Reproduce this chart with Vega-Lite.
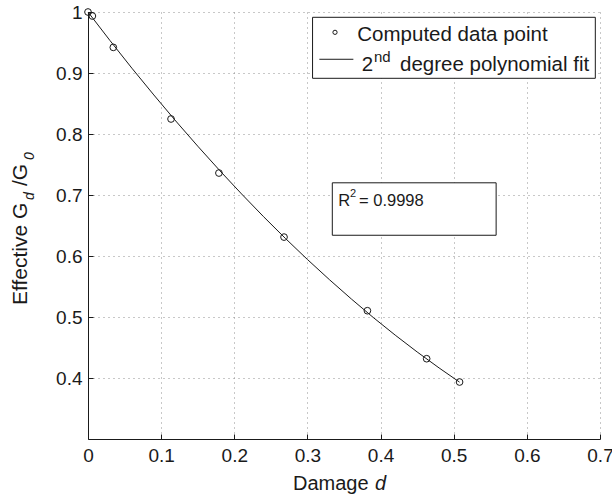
{
  "$schema": "https://vega.github.io/schema/vega-lite/v6.json",
  "width": 512,
  "height": 427,
  "autosize": {"type": "none"},
  "padding": {"left": 88, "top": 12, "right": 12, "bottom": 64},
  "background": "white",
  "config": {
    "font": "Liberation Sans",
    "view": {"stroke": null},
    "axis": {
      "labelFont": "Liberation Sans",
      "labelFontSize": 19,
      "labelColor": "#1a1a1a",
      "domainColor": "#1a1a1a",
      "tickColor": "#1a1a1a",
      "tickSize": -5,
      "gridColor": "#909090",
      "gridDash": [1, 4],
      "gridWidth": 1,
      "labelFlush": false,
      "labelOverlap": false,
      "title": null
    }
  },
  "datasets": {
    "points": [
      {"d": 0.0, "g": 1.0},
      {"d": 0.006, "g": 0.9934},
      {"d": 0.0346, "g": 0.942},
      {"d": 0.1135, "g": 0.8246},
      {"d": 0.179, "g": 0.736},
      {"d": 0.268, "g": 0.631},
      {"d": 0.382, "g": 0.5103},
      {"d": 0.463, "g": 0.4316},
      {"d": 0.508, "g": 0.3934}
    ],
    "fit": [
      {"d": 0.0, "g": 1.0},
      {"d": 0.03, "g": 0.9533},
      {"d": 0.06, "g": 0.9079},
      {"d": 0.09, "g": 0.864},
      {"d": 0.12, "g": 0.8213},
      {"d": 0.15, "g": 0.7801},
      {"d": 0.18, "g": 0.7402},
      {"d": 0.21, "g": 0.7017},
      {"d": 0.24, "g": 0.6645},
      {"d": 0.27, "g": 0.6287},
      {"d": 0.3, "g": 0.5943},
      {"d": 0.33, "g": 0.5613},
      {"d": 0.36, "g": 0.5296},
      {"d": 0.39, "g": 0.4992},
      {"d": 0.42, "g": 0.4703},
      {"d": 0.45, "g": 0.4427},
      {"d": 0.48, "g": 0.4165},
      {"d": 0.508, "g": 0.3932}
    ],
    "one": [{}]
  },
  "layer": [
    {
      "data": {"name": "fit"},
      "mark": {"type": "line", "color": "#1a1a1a", "strokeWidth": 1},
      "encoding": {
        "x": {"field": "d", "type": "quantitative",
          "scale": {"domain": [0, 0.7], "nice": false, "zero": false},
          "axis": {"values": [0, 0.1, 0.2, 0.3, 0.4, 0.5, 0.6, 0.7], "format": "~g", "labelPadding": 12, "labelBaseline": "top"}},
        "y": {"field": "g", "type": "quantitative",
          "scale": {"domain": [0.3, 1], "nice": false, "zero": false},
          "axis": {"values": [0.4, 0.5, 0.6, 0.7, 0.8, 0.9, 1.0], "format": "~g", "labelPadding": 11}}
      }
    },
    {
      "data": {"name": "points"},
      "mark": {"type": "point", "shape": "circle", "filled": false, "stroke": "#1a1a1a", "strokeWidth": 1, "size": 45, "opacity": 1},
      "encoding": {
        "x": {"field": "d", "type": "quantitative"},
        "y": {"field": "g", "type": "quantitative"}
      }
    },
    {
      "data": {"name": "one"},
      "mark": {"type": "rect", "fill": "white", "stroke": "#1a1a1a", "strokeWidth": 1},
      "encoding": {
        "x": {"datum": 0.307, "type": "quantitative"},
        "x2": {"datum": 0.6936},
        "y": {"datum": 0.9913, "type": "quantitative"},
        "y2": {"datum": 0.8913}
      }
    },
    {
      "data": {"name": "one"},
      "mark": {"type": "point", "shape": "circle", "filled": false, "stroke": "#1a1a1a", "strokeWidth": 1, "size": 18, "opacity": 1},
      "encoding": {
        "x": {"datum": 0.3377, "type": "quantitative"},
        "y": {"datum": 0.9667, "type": "quantitative"}
      }
    },
    {
      "data": {"name": "one"},
      "mark": {"type": "rule", "color": "#1a1a1a", "strokeWidth": 1},
      "encoding": {
        "x": {"datum": 0.3163, "type": "quantitative"},
        "x2": {"datum": 0.3628},
        "y": {"datum": 0.9225, "type": "quantitative"}
      }
    },
    {
      "data": {"name": "one"},
      "mark": {"type": "text", "align": "left", "baseline": "alphabetic", "fontSize": 20.5, "color": "#1a1a1a"},
      "encoding": {
        "x": {"datum": 0.3682, "type": "quantitative"},
        "y": {"datum": 0.953, "type": "quantitative"},
        "text": {"value": "Computed data point"}
      }
    },
    {
      "data": {"name": "one"},
      "mark": {"type": "text", "align": "left", "baseline": "alphabetic", "fontSize": 20.5, "color": "#1a1a1a"},
      "encoding": {
        "x": {"datum": 0.3742, "type": "quantitative"},
        "y": {"datum": 0.904, "type": "quantitative"},
        "text": {"value": "2"}
      }
    },
    {
      "data": {"name": "one"},
      "mark": {"type": "text", "align": "left", "baseline": "alphabetic", "fontSize": 15, "color": "#1a1a1a"},
      "encoding": {
        "x": {"datum": 0.391, "type": "quantitative"},
        "y": {"datum": 0.9185, "type": "quantitative"},
        "text": {"value": "nd"}
      }
    },
    {
      "data": {"name": "one"},
      "mark": {"type": "text", "align": "left", "baseline": "alphabetic", "fontSize": 20.5, "color": "#1a1a1a"},
      "encoding": {
        "x": {"datum": 0.4266, "type": "quantitative"},
        "y": {"datum": 0.904, "type": "quantitative"},
        "text": {"value": "degree polynomial fit"}
      }
    },
    {
      "data": {"name": "one"},
      "mark": {"type": "rect", "fill": "white", "stroke": "#1a1a1a", "strokeWidth": 1},
      "encoding": {
        "x": {"datum": 0.334, "type": "quantitative"},
        "x2": {"datum": 0.558},
        "y": {"datum": 0.72, "type": "quantitative"},
        "y2": {"datum": 0.634}
      }
    },
    {
      "data": {"name": "one"},
      "mark": {"type": "text", "align": "left", "baseline": "alphabetic", "fontSize": 16.5, "color": "#1a1a1a"},
      "encoding": {
        "x": {"datum": 0.3422, "type": "quantitative"},
        "y": {"datum": 0.682, "type": "quantitative"},
        "text": {"value": "R"}
      }
    },
    {
      "data": {"name": "one"},
      "mark": {"type": "text", "align": "left", "baseline": "alphabetic", "fontSize": 11, "color": "#1a1a1a"},
      "encoding": {
        "x": {"datum": 0.3582, "type": "quantitative"},
        "y": {"datum": 0.6972, "type": "quantitative"},
        "text": {"value": "2"}
      }
    },
    {
      "data": {"name": "one"},
      "mark": {"type": "text", "align": "left", "baseline": "alphabetic", "fontSize": 16.5, "color": "#1a1a1a"},
      "encoding": {
        "x": {"datum": 0.3705, "type": "quantitative"},
        "y": {"datum": 0.682, "type": "quantitative"},
        "text": {"value": "= 0.9998"}
      }
    },
    {
      "data": {"name": "one"},
      "mark": {"type": "text", "align": "left", "baseline": "alphabetic", "fontSize": 21, "color": "#1a1a1a", "angle": 270},
      "encoding": {
        "x": {"datum": -0.0838, "type": "quantitative"},
        "y": {"datum": 0.5197, "type": "quantitative"},
        "text": {"value": "Effective G"}
      }
    },
    {
      "data": {"name": "one"},
      "mark": {"type": "text", "align": "left", "baseline": "alphabetic", "fontSize": 14, "fontStyle": "italic", "color": "#1a1a1a", "angle": 270},
      "encoding": {
        "x": {"datum": -0.0745, "type": "quantitative"},
        "y": {"datum": 0.6918, "type": "quantitative"},
        "text": {"value": "d"}
      }
    },
    {
      "data": {"name": "one"},
      "mark": {"type": "text", "align": "left", "baseline": "alphabetic", "fontSize": 21, "color": "#1a1a1a", "angle": 270},
      "encoding": {
        "x": {"datum": -0.0838, "type": "quantitative"},
        "y": {"datum": 0.7148, "type": "quantitative"},
        "text": {"value": "/G"}
      }
    },
    {
      "data": {"name": "one"},
      "mark": {"type": "text", "align": "left", "baseline": "alphabetic", "fontSize": 14, "fontStyle": "italic", "color": "#1a1a1a", "angle": 270},
      "encoding": {
        "x": {"datum": -0.0745, "type": "quantitative"},
        "y": {"datum": 0.7574, "type": "quantitative"},
        "text": {"value": "0"}
      }
    },
    {
      "data": {"name": "one"},
      "mark": {"type": "text", "align": "left", "baseline": "alphabetic", "fontSize": 20, "color": "#1a1a1a"},
      "encoding": {
        "x": {"datum": 0.2803, "type": "quantitative"},
        "y": {"datum": 0.2164, "type": "quantitative"},
        "text": {"value": "Damage"}
      }
    },
    {
      "data": {"name": "one"},
      "mark": {"type": "text", "align": "left", "baseline": "alphabetic", "fontSize": 20, "fontStyle": "italic", "color": "#1a1a1a"},
      "encoding": {
        "x": {"datum": 0.3924, "type": "quantitative"},
        "y": {"datum": 0.2164, "type": "quantitative"},
        "text": {"value": "d"}
      }
    }
  ]
}
